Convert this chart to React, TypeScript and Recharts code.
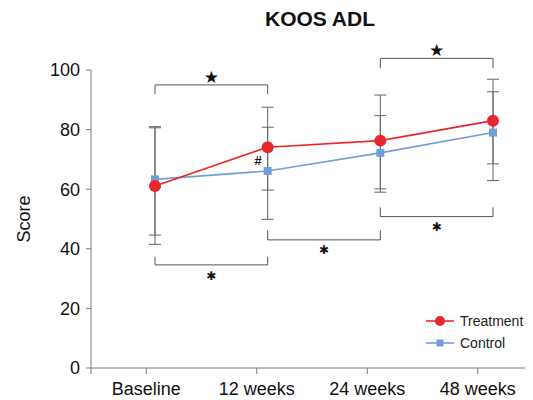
import React from 'react';
import {
  LineChart,
  Line,
  XAxis,
  YAxis,
  ErrorBar,
  ReferenceLine,
  ReferenceDot,
  Legend,
} from 'recharts';

const FONT = '"Liberation Sans", Arial, Helvetica, sans-serif';
const RED = '#e8262b';
const BLUE = '#6f9fd8';
const AXIS = '#7a7a7a';
const BRACKET = '#555555';

// ---- data ----
const timepoints = [0, 1, 2, 3];
const categoryLabels = ['Baseline', '12 weeks', '24 weeks', '48 weeks'];
const treatmentValues = [61.1, 74.1, 76.3, 83.0];
const treatmentErrors = [
  [19.6, 19.5],
  [14.4, 13.4],
  [17.3, 15.3],
  [14.5, 13.9],
];
const controlValues = [63.3, 66.1, 72.2, 79.0];
const controlErrors = [
  [18.7, 17.7],
  [16.2, 14.7],
  [12.1, 12.5],
  [16.1, 13.7],
];
const yTicks = [0, 20, 40, 60, 80, 100];
const xTicks = [-0.5, 0, 1, 2, 3];

// significance brackets (data units)
const brackets = [
  { from: 0, to: 1, y: 95.0, tip: 91.9, starY: 97.8, glyph: '★' },
  { from: 0, to: 1, y: 34.6, tip: 37.3, starY: 31.0, glyph: '✱' },
  { from: 1, to: 2, y: 43.0, tip: 46.2, starY: 39.6, glyph: '✱' },
  { from: 2, to: 3, y: 103.9, tip: 100.6, starY: 106.8, glyph: '★' },
  { from: 2, to: 3, y: 50.8, tip: 53.9, starY: 47.3, glyph: '✱' },
];
const hashMark = { x: 0.915, y: 69.6, text: '#' };

const data = timepoints.map((t, i) => ({
  x: t,
  treatment: treatmentValues[i],
  control: controlValues[i],
  tErr: treatmentErrors[i],
  cErr: controlErrors[i],
}));

const legendOrder = ['treatment', 'control'];

const renderLegend = (props: any) => {
  const payload = [...(props.payload || [])].sort(
    (a: any, b: any) => legendOrder.indexOf(a.dataKey) - legendOrder.indexOf(b.dataKey)
  );
  return (
    <div style={{ fontFamily: FONT, fontSize: 14, color: '#222' }}>
      {payload.map((p: any) => (
        <div
          key={p.dataKey}
          style={{ display: 'flex', alignItems: 'center', height: 22, whiteSpace: 'nowrap' }}
        >
          <svg width={28} height={12} style={{ marginRight: 6, display: 'block', flexShrink: 0 }}>
            <line x1={0} y1={6} x2={28} y2={6} stroke={p.color} strokeWidth={1.6} />
            {p.dataKey === 'treatment' ? (
              <circle cx={14} cy={6} r={5} fill={p.color} />
            ) : (
              <rect x={10.5} y={2.5} width={7} height={7} fill={p.color} />
            )}
          </svg>
          <span style={{ flexShrink: 0 }}>{p.value}</span>
        </div>
      ))}
    </div>
  );
};

const SquareDot = (props: any) => {
  const { cx, cy } = props;
  if (cx == null || cy == null) return null;
  return <rect x={cx - 4} y={cy - 4} width={8} height={8} fill={BLUE} />;
};

const ScoreLabel = (props: any) => {
  const vb = props.viewBox || {};
  const x = (vb.x || 0) + 16;
  const y = (vb.y || 0) + (vb.height || 0) / 2;
  return (
    <text
      x={x}
      y={y}
      transform={`rotate(-90, ${x}, ${y})`}
      textAnchor="middle"
      dominantBaseline="central"
      fontFamily={FONT}
      fontSize={18}
      fill="#111"
    >
      Score
    </text>
  );
};

export default function App() {
  return (
    <div style={{ position: 'relative', width: 532, height: 392 }}>
      <style>{'html{overflow:hidden;}'}</style>
      <div
        style={{
          position: 'absolute',
          top: 0,
          left: 0,
          width: 624,
          textAlign: 'center',
          fontFamily: FONT,
          fontSize: 21,
          lineHeight: '21px',
          fontWeight: 'bold',
          color: '#111',
          pointerEvents: 'none',
        }}
      >
        KOOS ADL
      </div>
      <LineChart
        width={532}
        height={392}
        data={data}
        margin={{ top: 62, right: 7, bottom: 2, left: 0 }}
      >
        <XAxis
          xAxisId="lab"
          dataKey="x"
          type="number"
          domain={[-0.5, 3.5]}
          ticks={xTicks}
          tickFormatter={(v: number) => (v >= 0 ? categoryLabels[v] : '')}
          interval={0}
          height={30}
          tickSize={6}
          tickMargin={8}
          stroke={AXIS}
          axisLine={{ stroke: AXIS }}
          tickLine={{ stroke: AXIS }}
          tick={{ fill: '#111', fontSize: 18, fontFamily: FONT }}
          allowDataOverflow
        />
        <XAxis
          xAxisId="data"
          dataKey="x"
          type="number"
          orientation="top"
          height={0}
          domain={[-0.568, 3.355]}
          hide
          allowDataOverflow
        />
        <YAxis
          domain={[0, 100]}
          ticks={yTicks}
          width={83}
          tickSize={5}
          tickMargin={6}
          axisLine={{ stroke: AXIS }}
          tickLine={{ stroke: AXIS }}
          tick={{ fill: '#111', fontSize: 18, fontFamily: FONT }}
          label={<ScoreLabel />}
        />
        {brackets.map((b, i) => (
          <ReferenceLine
            key={`bh${i}`}
            xAxisId="data"
            segment={[
              { x: b.from, y: b.y },
              { x: b.to, y: b.y },
            ]}
            stroke={BRACKET}
            strokeWidth={1}
            ifOverflow="visible"
          />
        ))}
        {brackets.map((b, i) => (
          <ReferenceLine
            key={`bl${i}`}
            xAxisId="data"
            segment={[
              { x: b.from, y: b.y },
              { x: b.from, y: b.tip },
            ]}
            stroke={BRACKET}
            strokeWidth={1}
            ifOverflow="visible"
          />
        ))}
        {brackets.map((b, i) => (
          <ReferenceLine
            key={`br${i}`}
            xAxisId="data"
            segment={[
              { x: b.to, y: b.y },
              { x: b.to, y: b.tip },
            ]}
            stroke={BRACKET}
            strokeWidth={1}
            ifOverflow="visible"
          />
        ))}
        {brackets.map((b, i) => (
          <ReferenceDot
            key={`bs${i}`}
            xAxisId="data"
            x={(b.from + b.to) / 2}
            y={b.starY}
            r={0}
            fill="none"
            stroke="none"
            ifOverflow="visible"
            label={{
              value: b.glyph,
              position: 'center',
              fill: '#111',
              fontSize: b.glyph === '★' ? 17 : 12,
              fontFamily: '"DejaVu Sans", sans-serif',
            }}
          />
        ))}
        <ReferenceDot
          xAxisId="data"
          x={hashMark.x}
          y={hashMark.y}
          r={0}
          fill="none"
          stroke="none"
          ifOverflow="visible"
          label={{
            value: hashMark.text,
            position: 'center',
            fill: '#111',
            fontSize: 13,
            fontWeight: 'bold',
            fontFamily: FONT,
          }}
        />
        <Line
          xAxisId="data"
          dataKey="control"
          name="Control"
          stroke={BLUE}
          strokeWidth={1.6}
          dot={<SquareDot />}
          activeDot={false}
          isAnimationActive={false}
        >
          <ErrorBar dataKey="cErr" width={6} stroke="#666" strokeWidth={1} direction="y" />
        </Line>
        <Line
          xAxisId="data"
          dataKey="treatment"
          name="Treatment"
          stroke={RED}
          strokeWidth={1.6}
          dot={{ r: 6, fill: RED, stroke: RED, strokeWidth: 0 }}
          activeDot={false}
          isAnimationActive={false}
        >
          <ErrorBar dataKey="tErr" width={6} stroke="#666" strokeWidth={1} direction="y" />
        </Line>
        <Legend
          content={renderLegend}
          layout="horizontal"
          verticalAlign="middle"
          align="center"
          wrapperStyle={{ left: 418, top: 302, width: 104, overflow: 'visible' }}
        />
      </LineChart>
    </div>
  );
}
